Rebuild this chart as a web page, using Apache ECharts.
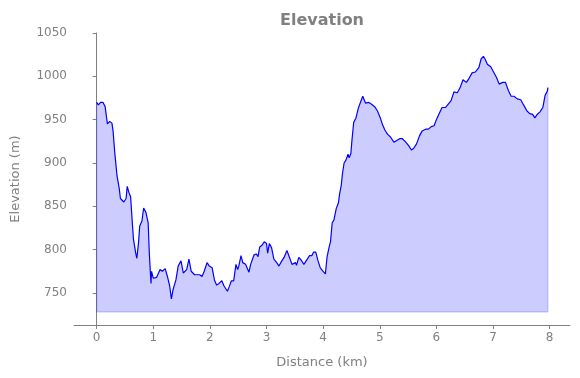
<!DOCTYPE html>
<html>
<head>
<meta charset="utf-8">
<script src="https://cdn.jsdelivr.net/npm/echarts@6/dist/echarts.min.js"></script>
<style>
  html, body { margin: 0; padding: 0; background: #fff; }
  #chart { width: 580px; height: 378px; }
</style>
</head>
<body>
<div id="chart"></div>
<script>
// 距离 (km) 与海拔 (m)
const distance = [
    0.00, 0.03, 0.07, 0.11, 0.15, 0.19, 0.23, 0.27, 0.29, 0.32, 0.36, 0.40, 0.42, 0.45, 0.48,
    0.52, 0.54, 0.57, 0.60, 0.63, 0.65, 0.69, 0.71, 0.74, 0.76, 0.80, 0.83, 0.87, 0.91, 0.93,
    0.96, 0.97, 1.00, 1.06, 1.12, 1.16, 1.21, 1.25, 1.29, 1.32, 1.35, 1.40, 1.44, 1.49, 1.53,
    1.59, 1.63, 1.67, 1.73, 1.82, 1.86, 1.90, 1.95, 1.99, 2.04, 2.08, 2.12, 2.16, 2.21, 2.25,
    2.31, 2.34, 2.38, 2.42, 2.46, 2.49, 2.51, 2.55, 2.58, 2.63, 2.69, 2.72, 2.78, 2.82, 2.85,
    2.88, 2.92, 2.96, 3.00, 3.02, 3.05, 3.09, 3.13, 3.18, 3.22, 3.27, 3.31, 3.36, 3.40, 3.45,
    3.51, 3.53, 3.57, 3.61, 3.66, 3.70, 3.76, 3.80, 3.83, 3.87, 3.91, 3.95, 4.00, 4.04, 4.07,
    4.11, 4.13, 4.16, 4.19, 4.23, 4.27, 4.29, 4.32, 4.34, 4.37, 4.40, 4.44, 4.46, 4.49, 4.51,
    4.54, 4.58, 4.62, 4.66, 4.70, 4.72, 4.75, 4.80, 4.85, 4.91, 4.96, 5.01, 5.05, 5.09, 5.14,
    5.19, 5.25, 5.30, 5.35, 5.40, 5.46, 5.51, 5.56, 5.60, 5.65, 5.70, 5.75, 5.81, 5.86, 5.91,
    5.96, 6.00, 6.05, 6.10, 6.16, 6.21, 6.26, 6.31, 6.37, 6.42, 6.47, 6.53, 6.58, 6.63, 6.69,
    6.75, 6.79, 6.83, 6.86, 6.90, 6.96, 7.01, 7.06, 7.11, 7.17, 7.22, 7.27, 7.32, 7.37, 7.43,
    7.49, 7.54, 7.60, 7.65, 7.70, 7.74, 7.78, 7.83, 7.88, 7.92, 7.96, 7.97
];
const elevation = [
    970, 967, 970, 970, 965, 945, 948, 946, 937, 912, 885, 870, 859, 860, 855,
    859, 873, 866, 861, 831, 812, 796, 790, 808, 827, 833, 848, 843, 831, 796,
    761, 775, 767, 768, 777, 775, 778, 769, 758, 743, 754, 765, 781, 787, 773,
    777, 789, 775, 771, 771, 769, 775, 785, 781, 779, 765, 759, 761, 764, 758,
    752, 757, 764, 764, 783, 777, 781, 793, 785, 783, 774, 783, 794, 795, 792,
    803, 805, 809, 807, 796, 807, 802, 789, 785, 781, 787, 791, 799, 792, 783,
    785, 782, 791, 788, 783, 787, 793, 793, 797, 797, 787, 779, 775, 772, 792,
    804, 809, 831, 834, 847, 854, 864, 874, 887, 900, 903, 910, 906, 911, 927,
    947, 952, 963, 970, 977, 975, 969, 970, 968, 965, 960, 952, 944, 938, 933,
    930, 924, 926, 928, 928, 924, 920, 915, 917, 922, 931, 937, 939, 939, 942,
    943, 950, 957, 964, 964, 968, 972, 982, 981, 987, 996, 993, 998, 1004, 1005,
    1010, 1020, 1023, 1020, 1014, 1011, 1005, 999, 991, 993, 993, 984, 977, 977, 974,
    973, 967, 960, 957, 956, 952, 956, 959, 964, 978, 983, 987
];
const xTicks = [0, 1, 2, 3, 4, 5, 6, 7, 8];
const yTicks = [750, 800, 850, 900, 950, 1000, 1050];
const fillBase = 728;

const points = distance.map((d, i) => [d, elevation[i]]);
const last = distance.length - 1;
const fillEdge = [
    [distance[0], elevation[0]], [distance[0], fillBase],
    [distance[last], fillBase], [distance[last], elevation[last]]
];

const gray = '#808080';
const font = 'DejaVu Sans';

const chart = echarts.init(document.getElementById('chart'), null, { renderer: 'canvas' });
chart.setOption({
    animation: false,
    backgroundColor: '#fff',
    title: {
        text: 'Elevation',
        left: 275,
        top: 8,
        textStyle: { color: gray, fontFamily: font, fontWeight: 'bold', fontSize: 16 }
    },
    grid: { left: 74, right: 10, top: 33, bottom: 53 },
    xAxis: {
        type: 'value',
        min: -0.4,
        max: 8.36,
        name: 'Distance (km)',
        nameLocation: 'middle',
        nameGap: 31,
        nameTextStyle: { color: gray, fontFamily: font, fontSize: 13 },
        splitLine: { show: false },
        axisLine: { show: true, lineStyle: { color: gray, width: 1 } },
        axisTick: { show: true, length: 4, customValues: xTicks, lineStyle: { color: gray } },
        axisLabel: { customValues: xTicks, color: gray, fontFamily: font, fontSize: 12, margin: 7 }
    },
    yAxis: {
        type: 'value',
        min: 713,
        max: 1050,
        name: 'Elevation (m)',
        nameLocation: 'middle',
        nameGap: 52,
        nameTextStyle: { color: gray, fontFamily: font, fontSize: 13 },
        splitLine: { show: false },
        axisLine: { show: true, lineStyle: { color: gray, width: 1 } },
        axisTick: { show: true, length: 4, customValues: yTicks, lineStyle: { color: gray } },
        axisLabel: {
            customValues: yTicks,
            formatter: v => String(v),
            color: gray, fontFamily: font, fontSize: 12, margin: 7
        }
    },
    series: [
        {
            type: 'line',
            data: points,
            showSymbol: false,
            lineStyle: { color: 'rgba(0,0,0,0)', width: 0 },
            areaStyle: { color: 'rgba(0,0,255,0.2)', origin: fillBase, opacity: 1 },
            z: 1
        },
        {
            type: 'line',
            data: fillEdge,
            showSymbol: false,
            lineStyle: { color: 'rgba(0,0,255,0.15)', width: 1.5 },
            z: 2
        },
        {
            type: 'line',
            data: points,
            showSymbol: false,
            lineStyle: { color: '#0000ff', width: 1.2 },
            z: 3
        }
    ]
});
</script>
</body>
</html>
